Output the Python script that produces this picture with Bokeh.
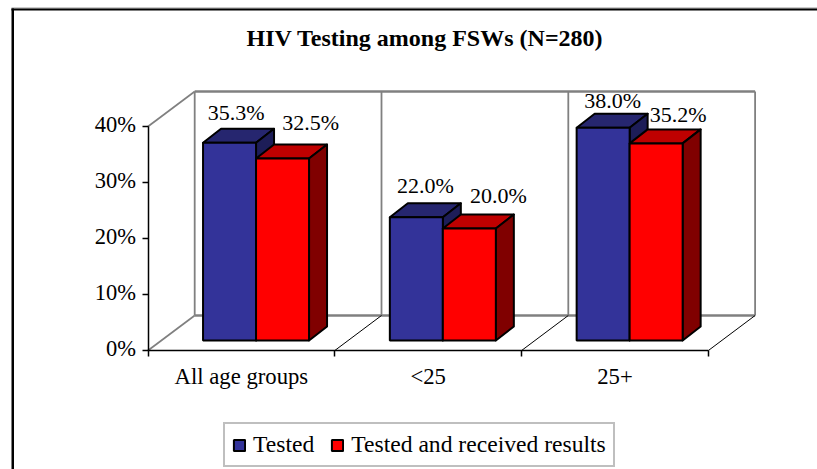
from bokeh.plotting import figure
from bokeh.models import (ColumnDataSource, FixedTicker, Legend, LegendItem, PrintfTickFormatter,
                          LinearAxis, BoxAnnotation, Range1d, Label)
from bokeh.core.properties import value
from bokeh.embed import file_html
from bokeh.resources import INLINE

# ---- data ----
categories = ["All age groups", "<25", "25+"]
tested = [35.3, 22.0, 38.0]
tested_received = [32.5, 20.0, 35.2]
y_ticks = [0, 10, 20, 30, 40]
series_names = ["Tested", "Tested and received results"]
title_text = "HIV Testing among FSWs (N=280)"

# ---- manual data label nudges (pixels) ----
tested_dx = [6.5, 9, 9.5]
tested_dy = [-30, -31.5, -27]
received_dx = [28, 29, 22]
received_dy = [-36, -33, -28.5]

# ---- geometry ----
FONT = "Liberation Serif"
PX_X = 186.8      # pixels per category
PX_Y = 5.6        # pixels per percentage point
W, H = 817, 469
X0, Y0 = 147.5, 350                         # page position of the origin
depth_x, depth_y = 46.7 / PX_X, 35 / PX_Y   # 3D floor depth
bar_x, bar_y = 18 / PX_X, 14 / PX_Y         # 3D bar depth
plane = 10 / 35                             # where the bars stand on the floor
half = 53 / PX_X                            # single bar width
centre_nudge = 1.3 / PX_X

p = figure(width=W, height=H, output_backend="svg", toolbar_location=None,
           x_range=Range1d(-X0 / PX_X, (W - X0) / PX_X), y_range=Range1d((Y0 - H) / PX_Y, Y0 / PX_Y),
           x_axis_type=None, y_axis_type=None,
           min_border=0, background_fill_color="white", border_fill_color="white", outline_line_color=None)
p.grid.visible = False
# tick labels of the value axis sit slightly above their ticks
p.extra_y_ranges["labels"] = Range1d((Y0 - H - 2) / PX_Y, (Y0 - 2) / PX_Y)

def cx(page):  # page pixel -> x value
    return (page - X0) / PX_X
def cy(page):  # page pixel -> y value
    return (Y0 - page) / PX_Y

# outer frame: only top and left are visible in the picture
p.add_layout(BoxAnnotation(left=cx(11), right=cx(817), top=cy(7), bottom=cy(8),
                           fill_color="#9a9a9a", fill_alpha=1, line_color=None))
p.add_layout(BoxAnnotation(left=cx(11), right=cx(817), top=cy(8), bottom=cy(10),
                           fill_color="black", fill_alpha=1, line_color=None))
p.add_layout(BoxAnnotation(left=cx(11), right=cx(13.5), top=cy(8), bottom=cy(469),
                           fill_color="black", fill_alpha=1, line_color=None))

# title
p.add_layout(Label(x=cx(424.5), y=cy(37), text=title_text, text_align="center", text_baseline="alphabetic",
                   text_font=FONT, text_font_size="24px", text_font_style="bold", text_color="black"))

# axes
ax = LinearAxis(fixed_location=0, ticker=FixedTicker(ticks=y_ticks),
                major_label_text_font_size="0px", bounds=(0, 40))
ax.major_tick_in = 0
ax.major_tick_out = 6
ax.minor_tick_line_color = None
ax.axis_line_width = 1.5
ax.major_tick_line_width = 1.5
ax.major_label_text_color = None
p.add_layout(ax, "left")

ax_labels = LinearAxis(fixed_location=0, y_range_name="labels", ticker=FixedTicker(ticks=y_ticks),
                       formatter=PrintfTickFormatter(format="%d%%"))
ax_labels.axis_line_color = None
ax_labels.major_tick_line_color = None
ax_labels.minor_tick_line_color = None
ax_labels.major_tick_in = 0
ax_labels.major_tick_out = 6
ax_labels.major_label_text_font = FONT
ax_labels.major_label_text_font_size = "22.5px"
ax_labels.major_label_standoff = 6
ax_labels.major_label_text_color = "black"
p.add_layout(ax_labels, "left")

cat_ticks = [i + 0.5 for i in range(len(categories))]
xa = LinearAxis(fixed_location=0, ticker=FixedTicker(ticks=cat_ticks, minor_ticks=list(range(len(categories) + 1))),
                bounds=(0, len(categories)))
xa.major_label_overrides = dict(zip(cat_ticks, categories))
xa.major_tick_line_color = None
xa.minor_tick_in = 0
xa.minor_tick_out = 6
xa.axis_line_width = 1.5
xa.minor_tick_line_width = 1.5
xa.major_label_text_font = FONT
xa.major_label_text_font_size = "22.7px"
xa.major_label_standoff = 7
xa.major_label_text_color = "black"
p.add_layout(xa, "below")

n = len(categories)
GRAY = "#808080"

# back wall and left wall
p.multi_line(xs=[[depth_x, n + depth_x], [depth_x, n + depth_x]],
             ys=[[depth_y, depth_y], [40 + depth_y, 40 + depth_y]],
             line_color=GRAY, line_width=2.5)
p.multi_line(xs=[[0, depth_x], [0, depth_x]], ys=[[0, depth_y], [40, 40 + depth_y]],
             line_color=GRAY, line_width=1.7)
p.multi_line(xs=[[i + depth_x, i + depth_x] for i in range(n + 1)],
             ys=[[depth_y, 40 + depth_y] for i in range(n + 1)],
             line_color=GRAY, line_width=1.8)
# floor dividers
p.multi_line(xs=[[i, i + depth_x] for i in range(1, n + 1)],
             ys=[[0, depth_y] for i in range(1, n + 1)],
             line_color="black", line_width=1)

# bars
def faces(values, offset):
    lefts, rights, bottoms, tops = [], [], [], []
    for i, v in enumerate(values):
        c = i + 0.5 + plane * depth_x + centre_nudge
        lefts.append(c + offset * half)
        rights.append(c + (offset + 1) * half)
        bottoms.append(plane * depth_y)
        tops.append(plane * depth_y + v)
    return lefts, rights, bottoms, tops

def draw(values, offset, front, top_col, side_col):
    l, r, b, t = faces(values, offset)
    top_xs = [[a, c, c + bar_x, a + bar_x] for a, c in zip(l, r)]
    top_ys = [[d, d, d + bar_y, d + bar_y] for d in t]
    side_xs = [[c, c + bar_x, c + bar_x, c] for c in r]
    side_ys = [[e, e + bar_y, d + bar_y, d] for e, d in zip(b, t)]
    p.patches(top_xs, top_ys, fill_color=top_col, line_color="black", line_width=2, line_join="round")
    p.patches(side_xs, side_ys, fill_color=side_col, line_color="black", line_width=2, line_join="round")
    return p.quad(left=l, right=r, bottom=b, top=t, fill_color=front, line_color="black", line_width=2)

r_blue = draw(tested, -1, "#333399", "#26266f", "#1d1d58")
r_red = draw(tested_received, 0, "#ff0000", "#bf0000", "#800000")

# data labels
def labels(values, offset, dx, dy):
    l, r, b, t = faces(values, offset)
    src = ColumnDataSource(dict(x=[(a + c) / 2 for a, c in zip(l, r)], y=t,
                                text=[f"{v:.1f}%" for v in values], dx=dx, dy=dy))
    p.text("x", "y", text="text", source=src, x_offset="dx", y_offset="dy",
           text_font=value(FONT), text_font_size=value("22px"), text_align="center",
           text_baseline="alphabetic", text_color="black")

labels(tested, -1, tested_dx, tested_dy)
labels(tested_received, 0, received_dx, received_dy)

# legend
legend = Legend(items=[LegendItem(label=series_names[0], renderers=[r_blue]),
                       LegendItem(label=series_names[1], renderers=[r_red])],
                orientation="horizontal", location=(223, 2),
                glyph_width=14, glyph_height=14, label_standoff=7, spacing=16, padding=7,
                margin=0, border_line_color=GRAY, border_line_width=2, background_fill_alpha=1,
                label_text_font=FONT, label_text_font_size="23.6px", label_text_color="black",
                label_height=23)
p.add_layout(legend, "center")

open("out.html", "w").write(file_html(p, INLINE))
